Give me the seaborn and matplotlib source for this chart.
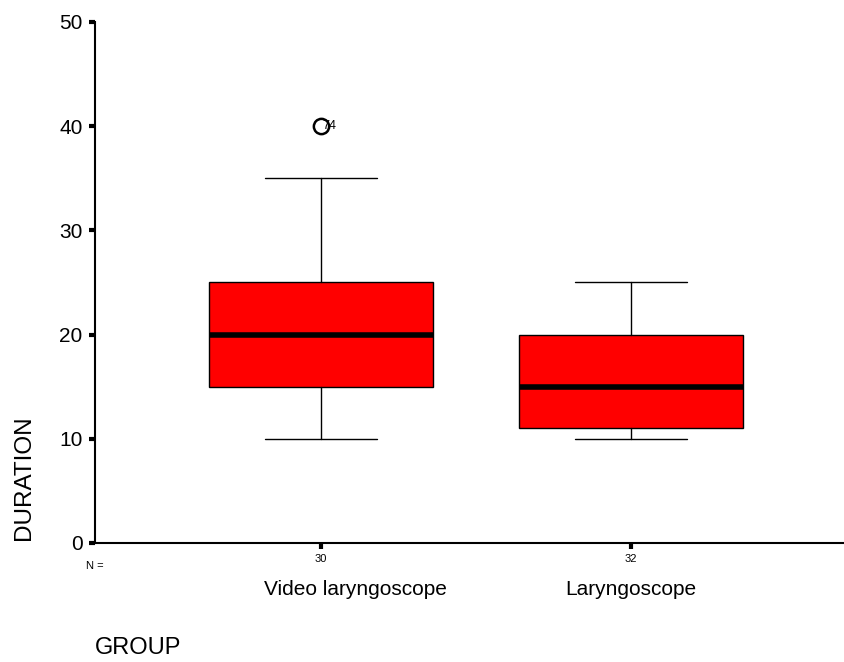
import matplotlib
matplotlib.use("Agg")
import matplotlib.pyplot as plt
import seaborn as sns

# Gruppen und Kennwerte der Boxplots
gruppen = ["Video laryngoscope", "Laryngoscope"]
anzahl = [30, 32]
whisker_unten = [10, 10]
q1 = [15, 11]
median = [20, 15]
q3 = [25, 20]
whisker_oben = [35, 25]
ausreisser = [[40], []]
ausreisser_label = [["74"], []]

sns.set_style("white")
plt.rcParams["font.family"] = ["Liberation Sans", "DejaVu Sans"]
plt.rcParams["text.color"] = "black"
plt.rcParams["xtick.color"] = "black"
plt.rcParams["ytick.color"] = "black"

fig = plt.figure(figsize=(8.45, 6.62), dpi=100)
ax = fig.add_axes([0.1124, 0.1798, 0.8876, 0.787])

stats = []
for i in range(len(gruppen)):
    stats.append({
        "med": median[i], "q1": q1[i], "q3": q3[i],
        "whislo": whisker_unten[i], "whishi": whisker_oben[i],
        "fliers": ausreisser[i], "label": gruppen[i],
    })

pos = list(range(len(gruppen)))
ax.bxp(stats, positions=pos, widths=0.72, patch_artist=True,
       boxprops=dict(facecolor="#ff0000", edgecolor="black", linewidth=1),
       medianprops=dict(color="black", linewidth=4, solid_capstyle="butt"),
       whiskerprops=dict(color="black", linewidth=1),
       capprops=dict(color="black", linewidth=1),
       flierprops=dict(marker="o", markerfacecolor="none", markeredgecolor="black",
                       markersize=11, markeredgewidth=1.8))

for i in range(len(gruppen)):
    for wert, lab in zip(ausreisser[i], ausreisser_label[i]):
        ax.annotate(lab, (pos[i], wert), xytext=(1, 0), textcoords="offset points",
                    ha="left", va="center", fontsize=9)

ax.set_xlim(-0.729, 1.69)
ax.set_ylim(0, 50)
ax.set_yticks([0, 10, 20, 30, 40, 50])
ax.set_xticks(pos)
ax.set_xticklabels([str(n) for n in anzahl], fontsize=8)
ax.tick_params(axis="y", labelsize=15, length=4, width=3, direction="out", left=True, pad=5)
ax.tick_params(axis="x", length=4, width=3, direction="out", bottom=True, pad=4)

sns.despine(ax=ax, top=True, right=True)
ax.spines["left"].set_linewidth(1.5)
ax.spines["bottom"].set_linewidth(1.5)
ax.spines["left"].set_color("black")
ax.spines["bottom"].set_color("black")
ax.grid(False)

# Gruppennamen unter den N-Werten (erste leicht nach rechts versetzt wie im Original)
versatz = [34, 0]
for i, g in enumerate(gruppen):
    ax.annotate(g, (pos[i], 0), xycoords=ax.get_xaxis_transform(),
                xytext=(versatz[i], -47), textcoords="offset pixels",
                ha="center", va="center", fontsize=15)

ax.text(0.0, -0.045, "N =", transform=ax.transAxes,
        ha="center", va="center", fontsize=8)

fig.text(0.112, 0.012, "GROUP", ha="left", va="baseline", fontsize=17)
fig.text(0.0284, 0.278, "DURATION", rotation=90, ha="center", va="center", fontsize=17.5)

fig.savefig("out.png", dpi=100)
